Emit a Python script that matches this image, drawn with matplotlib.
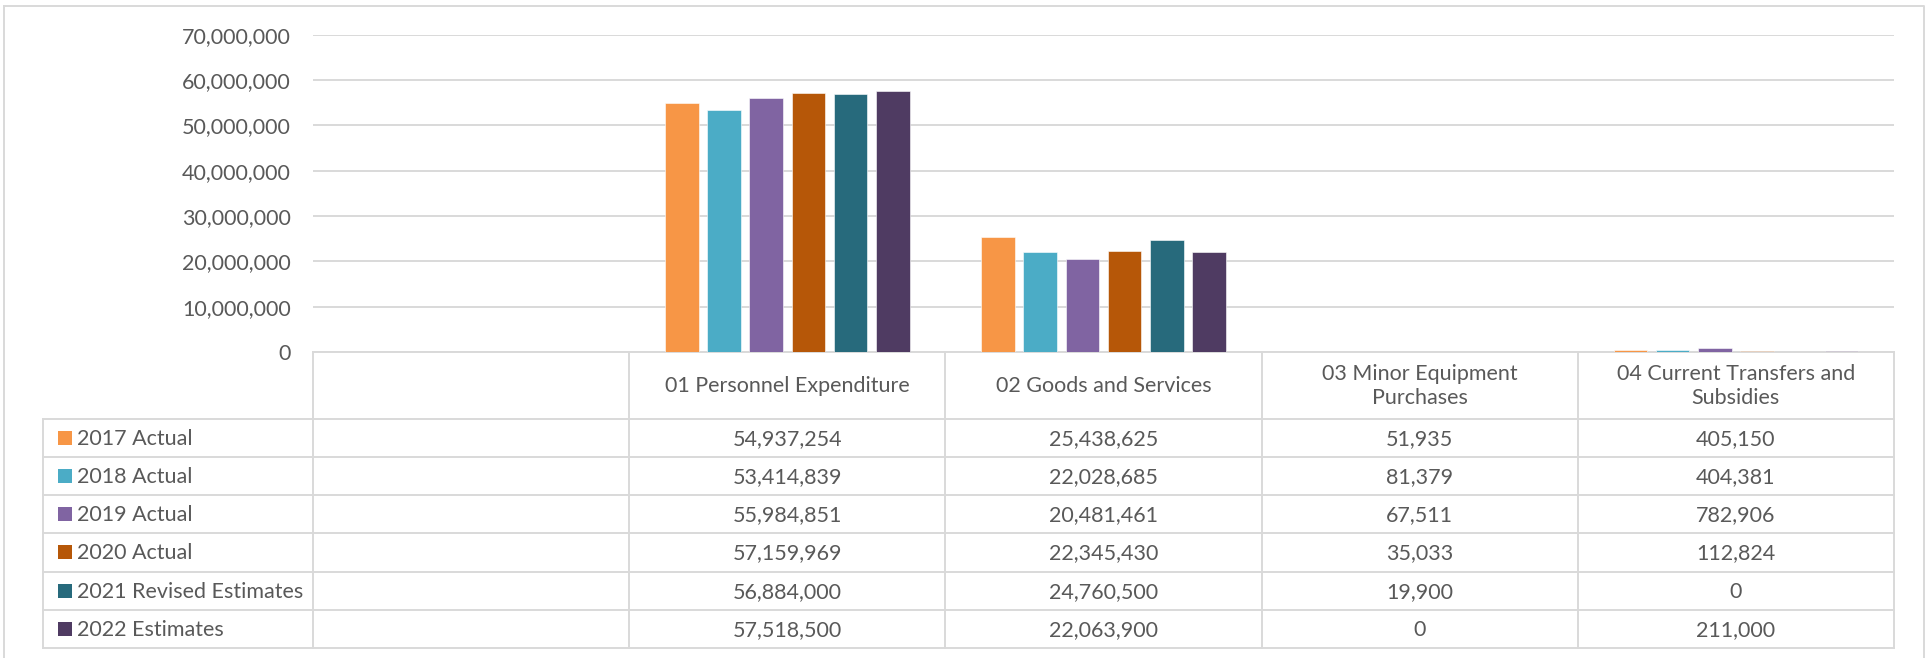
import textwrap
import matplotlib
matplotlib.use("Agg")
import matplotlib.pyplot as plt
import matplotlib.transforms as mtransforms
from matplotlib.ticker import FuncFormatter, MultipleLocator

# ---------------- data ----------------
categories = ["", "01 Personnel Expenditure", "02 Goods and Services",
              "03 Minor Equipment Purchases", "04 Current Transfers and Subsidies"]
series_names = ["2017 Actual", "2018 Actual", "2019 Actual", "2020 Actual",
                "2021 Revised Estimates", "2022 Estimates"]
v2017 = [None, 54937254, 25438625, 51935, 405150]
v2018 = [None, 53414839, 22028685, 81379, 404381]
v2019 = [None, 55984851, 20481461, 67511, 782906]
v2020 = [None, 57159969, 22345430, 35033, 112824]
v2021 = [None, 56884000, 24760500, 19900, 0]
v2022 = [None, 57518500, 22063900, 0, 211000]
series_values = [v2017, v2018, v2019, v2020, v2021, v2022]
colors = ["#F79646", "#4BACC6", "#8064A2", "#B65708", "#276A7C", "#4F3B62"]
y_max = 70000000
y_step = 10000000

# ---------------- style ----------------
W, H = 1925, 658
FONT = "Lato"
FS = 15.5
TXT = "#595959"
GRID = "#D9D9D9"

fig = plt.figure(figsize=(W / 100, H / 100), dpi=100)
fig.patch.set_facecolor("white")

# overlay in pixel coords
ov = fig.add_axes([0, 0, 1, 1], zorder=0)
ov.set_xlim(0, W)
ov.set_ylim(H, 0)
ov.axis("off")

plot_l, plot_r, plot_t, plot_b = 313, 1894, 34.7, 352.0
ax = fig.add_axes([plot_l / W, 1 - plot_b / H, (plot_r - plot_l) / W, (plot_b - plot_t) / H], zorder=2)
ax.patch.set_alpha(0)

n_cat = len(categories)
n_ser = len(series_names)
pitch = 0.1335
bw = 0.106
for i, (vals, col) in enumerate(zip(series_values, colors)):
    xs = [k + (i - (n_ser - 1) / 2) * pitch for k in range(n_cat) if vals[k] is not None]
    hs = [vals[k] for k in range(n_cat) if vals[k] is not None]
    ax.bar(xs, hs, width=bw, color=col, edgecolor="white", linewidth=0.4, zorder=3)

ax.set_xlim(-0.5, n_cat - 0.5)
ax.set_ylim(0, y_max)
ax.yaxis.set_major_locator(MultipleLocator(y_step))
ax.yaxis.set_major_formatter(FuncFormatter(lambda v, p: f"{int(v):,}"))
ax.grid(axis="y", color=GRID, linewidth=1.4, zorder=0)
ax.set_axisbelow(True)
for s in ["left", "right", "top"]:
    ax.spines[s].set_visible(False)
ax.spines["bottom"].set_color(GRID)
ax.spines["bottom"].set_linewidth(1.4)
ax.set_xticks([])
ax.tick_params(axis="y", length=0, pad=16, labelsize=FS, labelcolor=TXT)
for lab in ax.get_yticklabels():
    lab.set_fontfamily(FONT)

# ---------------- data table ----------------
tr = mtransforms.blended_transform_factory(ax.transData, ov.transData)
lbl_l = 43
hdr_t, hdr_b = 352.0, 418.5
tbl_b = 648.0
row_h = (tbl_b - hdr_b) / n_ser
lw_t = 1.4

# vertical lines at category boundaries
for k in range(n_cat + 1):
    ov.plot([k - 0.5, k - 0.5], [hdr_t, tbl_b], transform=tr, color=GRID, lw=lw_t, zorder=1)
ov.plot([lbl_l, lbl_l], [hdr_b, tbl_b], color=GRID, lw=lw_t, zorder=1)
# horizontal lines
for r in range(n_ser + 1):
    y = hdr_b + r * row_h
    ov.plot([lbl_l, plot_r], [y, y], color=GRID, lw=lw_t, zorder=1)

# header labels
for k, c in enumerate(categories):
    if c:
        ov.text(k, (hdr_t + hdr_b) / 2 + 1, textwrap.fill(c, 24), transform=tr,
                ha="center", va="center", fontsize=FS, color=TXT, family=FONT,
                linespacing=1.25)

# rows
for r, (name, vals, col) in enumerate(zip(series_names, series_values, colors)):
    yc = hdr_b + (r + 0.5) * row_h
    ov.add_patch(plt.Rectangle((58, yc - 7), 14, 14, color=col, lw=0))
    ov.text(77, yc + 1, name, ha="left", va="center", fontsize=FS, color=TXT, family=FONT)
    for k in range(n_cat):
        if vals[k] is not None:
            ov.text(k, yc + 1, f"{vals[k]:,}", transform=tr, ha="center", va="center",
                    fontsize=FS, color=TXT, family=FONT)

# chart frame
ov.plot([4, 1924, 1924], [6, 6, H], color=GRID, lw=1.4, zorder=1)
ov.plot([4, 4], [6, H], color=GRID, lw=1.4, zorder=1)

fig.savefig("out.png", dpi=100, facecolor="white")
